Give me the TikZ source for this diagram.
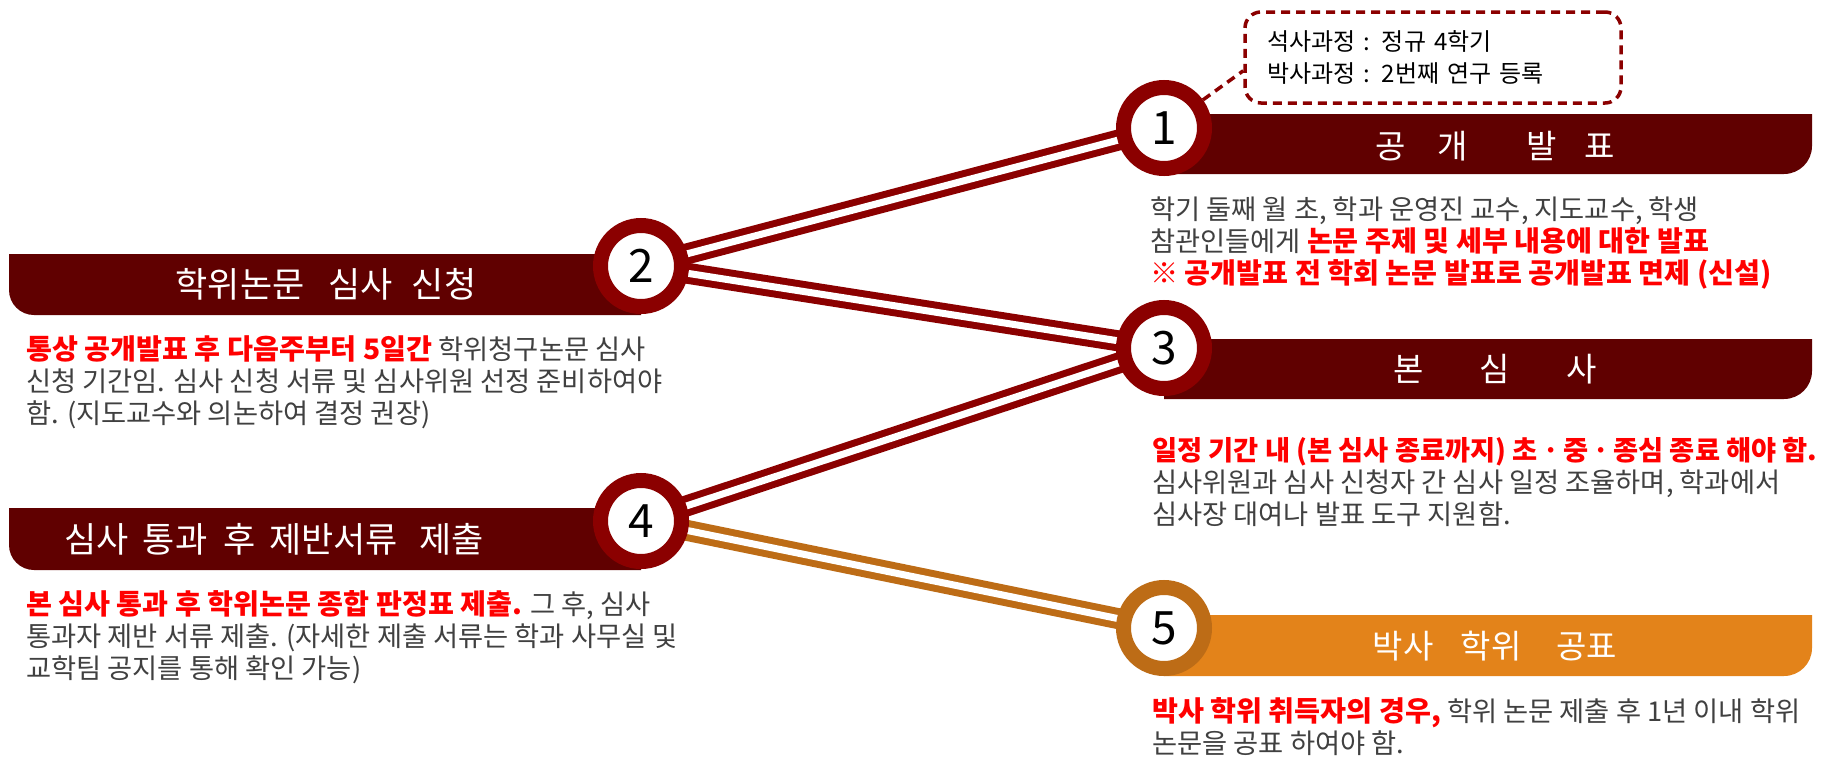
\documentclass[tikz,border=0pt]{standalone}
\usepackage{fontspec}
\setmainfont{Noto Sans CJK KR}
\usetikzlibrary{backgrounds}
\definecolor{barred}{RGB}{96,0,0}
\definecolor{ringred}{RGB}{139,0,0}
\definecolor{barorange}{RGB}{227,131,26}
\definecolor{ringorange}{RGB}{189,108,22}
\definecolor{notered}{RGB}{255,0,0}
\definecolor{textgray}{RGB}{64,64,64}
\newcommand{\hl}[1]{{\fontsize{28.2}{32}\selectfont\bfseries\color{notered}#1}}

\begin{document}
\begin{tikzpicture}[x=1pt,y=-1pt]

%
% Styles
%
\tikzstyle{station} = [circle,draw=ringred,line width=15pt,fill=white,minimum size=81pt,inner sep=0pt,font=\fontsize{46}{46}\selectfont]
\tikzstyle{rail} = [draw=ringred,line width=7pt,double=white,double distance=7pt]
\tikzstyle{title} = [white,inner sep=0pt,font=\fontsize{33}{33}\selectfont]
\tikzstyle{bigtitle} = [title,font=\fontsize{35}{35}\selectfont]
\tikzstyle{body} = [anchor=north west,align=left,inner sep=0pt,text=textgray,font=\fontsize{27.3}{32}\selectfont]
\tikzstyle{note} = [draw=ringred,line width=3.5pt,dash pattern=on 9pt off 6pt,rounded corners=16pt,fill=white,minimum width=376pt,minimum height=91pt,text width=332pt,align=left,font=\fontsize{24}{32}\selectfont]

\useasboundingbox (0,0) rectangle (1831,763);

% bars
\fill[barred] (1164,114) -- (1812,114) -- (1812,146) arc[start angle=0,end angle=90,radius=28] -- (1164,174) -- cycle;
\fill[barred] (641,254) -- (9,254) -- (9,290) arc[start angle=180,end angle=90,radius=25] -- (641,315) -- cycle;
\fill[barred] (1164,339) -- (1812,339) -- (1812,371) arc[start angle=0,end angle=90,radius=28] -- (1164,399) -- cycle;
\fill[barred] (641,508) -- (9,508) -- (9,545) arc[start angle=180,end angle=90,radius=25] -- (641,570) -- cycle;
\fill[barorange] (1164,615) -- (1812,615) -- (1812,648) arc[start angle=0,end angle=90,radius=28] -- (1164,676) -- cycle;

\node[title] (b1) at (1495,146) {공\hspace{32pt}개\hspace{58pt}발\hspace{28pt}표};
\node[bigtitle] (b2) at (326,284) {학위논문\hspace{24pt}심사\hspace{19pt}신청};
\node[title] (b3) at (1495,369) {본\hspace{56pt}심\hspace{56pt}사};
\node[bigtitle] (b4) at (274,539) {심사\hspace{14pt}통과\hspace{16pt}후\hspace{14pt}제반서류\hspace{21pt}제출};
\node[title] (b5) at (1495,646) {박사\hspace{27pt}학위\hspace{35pt}공표};

% stations
\node[station] (c1) at (1164,128) {1};
\node[station] (c2) at (641,266) {2};
\node[station] (c3) at (1164,348) {3};
\node[station] (c4) at (641,521) {4};
\node[station,draw=ringorange] (c5) at (1164,628) {5};

\begin{scope}[on background layer]
\fill[white] (0,0) rectangle (1831,763);
\draw[rail] (c2.center) -- (c1.center);
\draw[rail] (c2.center) -- (c3.center);
\draw[rail] (c4.center) -- (c3.center);
\draw[rail,draw=ringorange] (c4.center) -- (c5.center);
\end{scope}

% note
\node[note] (note) at (1433,57.5) {석사과정 : 정규 4학기\\박사과정 : 2번째 연구 등록};
\draw[ringred,line width=3.5pt,dash pattern=on 9pt off 6pt] (c1) -- (note.184);

% texts
\node[body] (t1) at (1150,197) {학기 둘째 월 초, 학과 운영진 교수, 지도교수, 학생\\
참관인들에게 \hl{논문 주제 및 세부 내용에 대한 발표}\\
\hl{※ 공개발표 전 학회 논문 발표로 공개발표 면제 (신설)}};
\node[body] (t2) at (26,335) {\hl{통상 공개발표 후 다음주부터 5일간} 학위청구논문 심사\\
신청 기간임. 심사 신청 서류 및 심사위원 선정 준비하여야\\
함. (지도교수와 의논하여 결정 권장)};
\node[body] (t3) at (1152,437) {{\bfseries\color{notered}일정 기간 내 (본 심사 종료까지) 초ㆍ중ㆍ종심 종료 해야 함.}\\
심사위원과 심사 신청자 간 심사 일정 조율하며, 학과에서\\
심사장 대여나 발표 도구 지원함.};
\node[body] (t4) at (26,590) {\hl{본 심사 통과 후 학위논문 종합 판정표 제출.} 그 후, 심사\\
통과자 제반 서류 제출. (자세한 제출 서류는 학과 사무실 및\\
교학팀 공지를 통해 확인 가능)};
\node[body] (t5) at (1152,697) {\hl{박사 학위 취득자의 경우,} 학위 논문 제출 후 1년 이내 학위\\
논문을 공표 하여야 함.};

\end{tikzpicture}
\end{document}
